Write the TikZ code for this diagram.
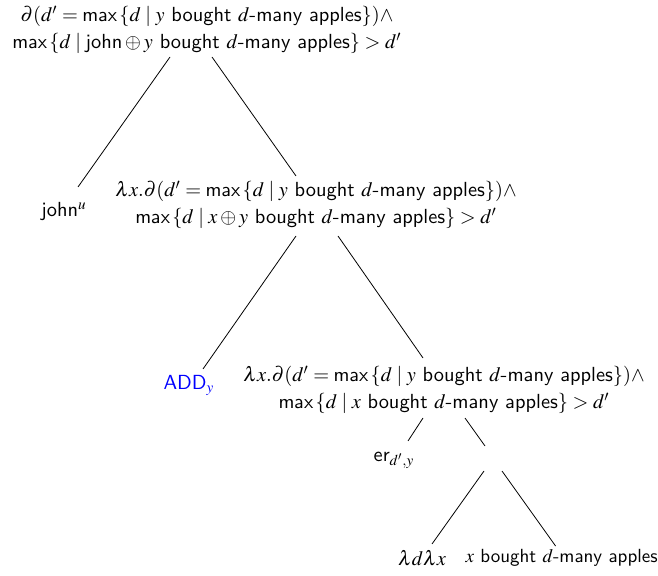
\documentclass[tikz,border=0pt]{standalone}
\usepackage{amsmath}
\usepackage{mathptmx}
\usetikzlibrary{calc}
\renewcommand{\familydefault}{\sfdefault}
\newcommand{\mmax}{\mathop{\mathsf{max}}\,}
\begin{document}
\begin{tikzpicture}[x=0.5pt,y=-0.5pt,
  lbl/.style={inner sep=0pt,align=center,font=\sffamily\fontsize{10.2}{13.6}\selectfont},
  br/.style={line width=0.4pt,black}]
\useasboundingbox (0,0) rectangle (658,576);
\node[lbl] (root) at (207,30) {$\partial(d'=\mmax\{d\mid y$ bought $d$-many apples$\})\wedge$\\
  $\mmax\{d\mid\text{john}\oplus y$ bought $d$-many apples$\}>d'$};
\node[lbl] (john) at (64,212) {john$^u$};
\node[lbl] (n2) at (316,205) {$\lambda x.\partial(d'=\mmax\{d\mid y$ bought $d$-many apples$\})\wedge$\\
  $\mmax\{d\mid x\oplus y$ bought $d$-many apples$\}>d'$};
\node[lbl,text=blue] (add) at (189,385) {ADD$_y$};
\node[lbl] (n3) at (444,390) {$\lambda x.\partial(d'=\mmax\{d\mid y$ bought $d$-many apples$\})\wedge$\\
  $\mmax\{d\mid x$ bought $d$-many apples$\}>d'$};
\node[lbl] (er) at (394,460) {er$_{d',y}$};
\coordinate (e) at (493,458);
\node[lbl] (ld) at (422,558) {$\lambda d\lambda x$};
\node[lbl,anchor=east,font=\sffamily\fontsize{9.5}{12}\selectfont] (xb) at (658,558) {$x$ bought $d$-many apples};
\draw[br] ($(root)+(-37,27)$) -- ($(john)+(14,-25)$);
\draw[br] ($(root)+(5,27)$) -- ($(n2)+(-20,-29)$);
\draw[br] ($(n2)+(-20,31)$) -- ($(add)+(14,-16)$);
\draw[br] ($(n2)+(22,31)$) -- ($(n3)+(-21,-32)$);
\draw[br] ($(n3)+(-21,28)$) -- ($(er)+(14,-19)$);
\draw[br] ($(n3)+(21,28)$) -- ($(e)+(-8,-12)$);
\draw[br] ($(e)+(-9,13)$) -- ($(ld)+(10,-14)$);
\draw[br] ($(e)+(9,13)$) -- ($(xb.north)+(-6,-3)$);
\end{tikzpicture}
\end{document}
